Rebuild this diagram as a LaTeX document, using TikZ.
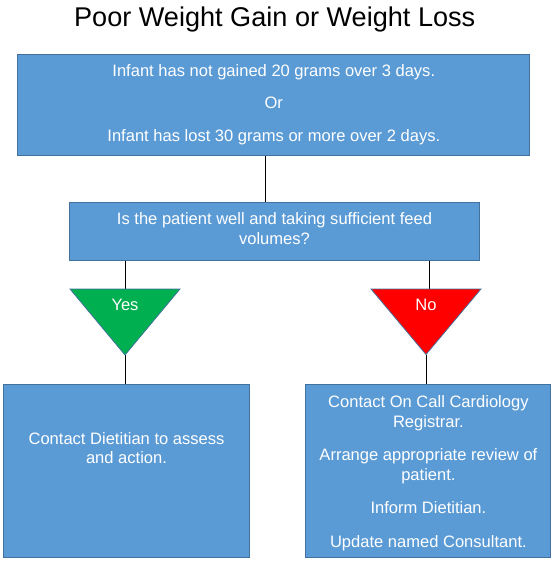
\documentclass[tikz,border=0pt]{standalone}
\usepackage{fontspec}
\setmainfont{Liberation Sans}
\usepackage{xcolor}

\definecolor{boxblue}{HTML}{5B9BD5}
\definecolor{boxedge}{HTML}{41719C}
\definecolor{yesgreen}{HTML}{00B050}
\definecolor{nored}{HTML}{FF0000}

\tikzset{
    box/.style={draw=boxedge,fill=boxblue,line width=1bp,inner sep=0pt},
    boxtext/.style={text=white,align=center,inner sep=0pt,font=\fontsize{16.6}{19.5}\selectfont},
    link/.style={draw=black,line width=1bp},
    tri/.style={draw=boxedge,line width=0.75bp},
}

\begin{document}
\begin{tikzpicture}[x=1bp,y=-1bp]
        \useasboundingbox (0,0) rectangle (559,566);

        \coordinate (T)      at (273.8,104.8);
        \coordinate (Q)      at (274.5,231);
        \coordinate (L)      at (126.5,470.5);
        \coordinate (R)      at (428.4,470.5);
        \coordinate (stem)   at (265.3,0);
        \coordinate (yesTop) at (125.5,289);
        \coordinate (yesTip) at (125,355);
        \coordinate (noTop)  at (429,289);
        \coordinate (noTip)  at (426,354.5);

        % boxes
        \node[box,minimum width=511.7bp,minimum height=101bp] (cond)  at (T) {};
        \node[box,minimum width=409bp,minimum height=58bp]    (quest) at (Q) {};
        \node[box,minimum width=245bp,minimum height=173bp]   (diet)  at (L) {};
        \node[box,minimum width=245bp,minimum height=173bp]   (cardio) at (R) {};

        % connectors
        \draw[link] (cond.south -| stem) -- (quest.north -| stem);
        \draw[link] (quest.south -| yesTop) -- (yesTop);
        \draw[link] (quest.south -| noTop)  -- (noTop);
        \draw[link] (yesTip) -- (yesTip |- diet.north);
        \draw[link] (noTip)  -- (noTip |- cardio.north);

        % decision triangles
        \draw[tri,fill=yesgreen] (70,289)  -- (180,289) -- (yesTip) -- cycle;
        \draw[tri,fill=nored]    (371,289) -- (481,289) -- (noTip)  -- cycle;

        % texts
        \node[inner sep=0pt,font=\fontsize{27.2}{32}\selectfont] (title) at (274.7,19) {Poor Weight Gain or Weight Loss};
        \node[boxtext] (condtext) at (273.8,104.6)
            {Infant has not gained 20 grams over 3 days.\\[13bp] Or\\[13bp] Infant has lost 30 grams or more over 2 days.};
        \node[boxtext,font=\fontsize{16.6}{20}\selectfont] (questtext) at (274.5,229)
            {Is the patient well and taking sufficient feed\\ volumes?};
        \node[boxtext] (yes) at (125,304.5) {Yes};
        \node[boxtext] (no)  at (426,304.5) {No};
        \node[boxtext] (diettext) at (126.5,448) {Contact Dietitian to assess\\ and action.};
        \node[boxtext] (cardiotext) at (428.4,473.2)
            {Contact On Call Cardiology\\ Registrar.\\[14bp] Arrange appropriate review of\\ patient.\\[14bp] Inform Dietitian.\\[14bp] Update named Consultant.};
\end{tikzpicture}
\end{document}
